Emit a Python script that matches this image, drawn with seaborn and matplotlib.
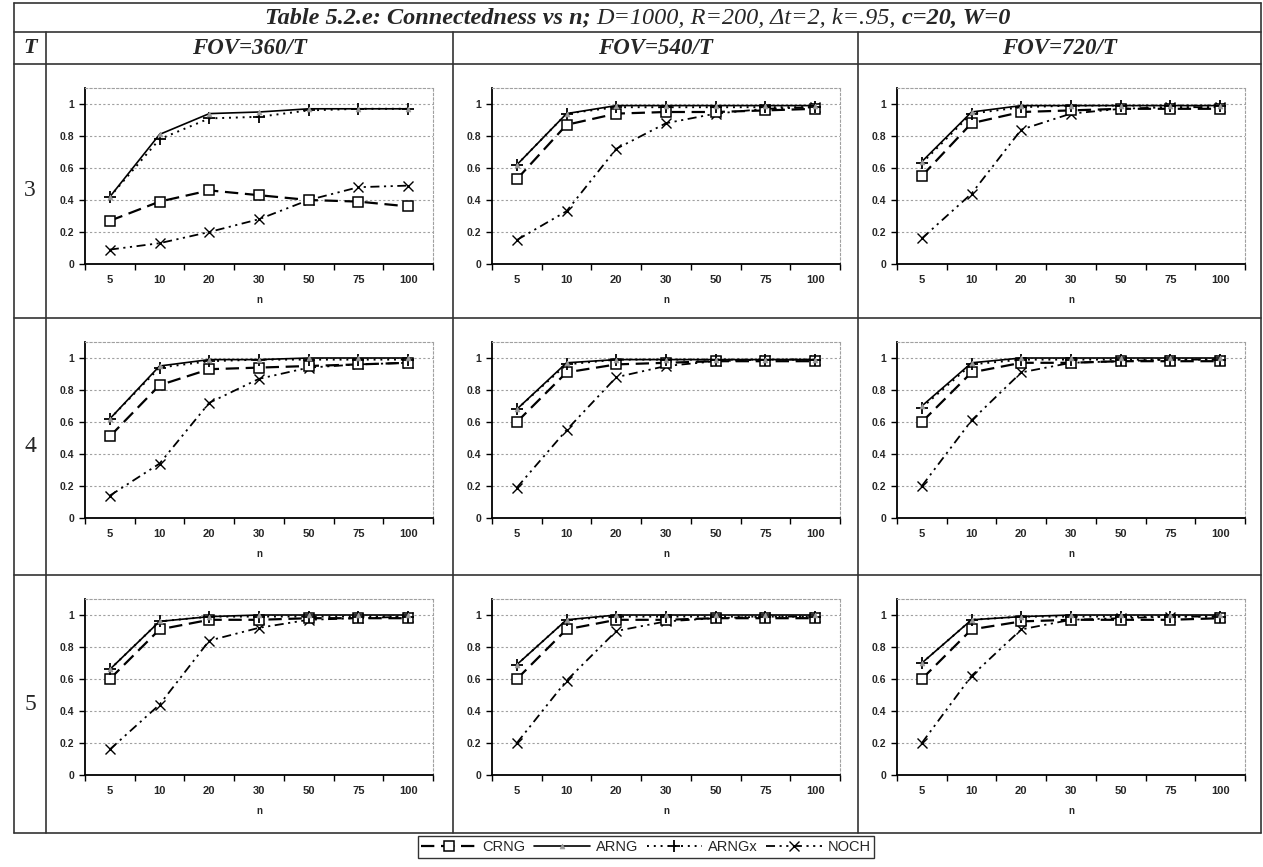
import numpy as np
import pandas as pd
import matplotlib
matplotlib.use("Agg")
import matplotlib.pyplot as plt
import seaborn as sns
from matplotlib.lines import Line2D

# categories / labels
n_labels = ["5", "10", "20", "30", "50", "75", "100"]
t_values = ["3", "4", "5"]
fov_labels = ["FOV=360/T", "FOV=540/T", "FOV=720/T"]
series_names = ["CRNG", "ARNG", "ARNGx", "NOCH"]

# values per T row, one list per FOV column
crng_t3 = [[0.27, 0.39, 0.46, 0.43, 0.40, 0.39, 0.36],
           [0.53, 0.87, 0.94, 0.95, 0.95, 0.96, 0.97],
           [0.55, 0.88, 0.95, 0.96, 0.97, 0.97, 0.97]]
arng_t3 = [[0.42, 0.81, 0.94, 0.95, 0.97, 0.97, 0.97],
           [0.62, 0.94, 0.99, 0.99, 0.99, 0.99, 0.99],
           [0.64, 0.95, 0.99, 0.99, 0.99, 0.99, 0.99]]
arngx_t3 = [[0.42, 0.78, 0.91, 0.92, 0.96, 0.97, 0.97],
            [0.62, 0.94, 0.98, 0.98, 0.98, 0.98, 0.98],
            [0.63, 0.94, 0.98, 0.99, 0.99, 0.99, 0.99]]
noch_t3 = [[0.09, 0.13, 0.20, 0.28, 0.40, 0.48, 0.49],
           [0.15, 0.33, 0.72, 0.88, 0.94, 0.97, 0.98],
           [0.16, 0.44, 0.84, 0.94, 0.97, 0.98, 0.98]]

crng_t4 = [[0.51, 0.83, 0.93, 0.94, 0.95, 0.96, 0.97],
           [0.60, 0.91, 0.96, 0.97, 0.98, 0.98, 0.98],
           [0.60, 0.91, 0.97, 0.97, 0.98, 0.98, 0.98]]
arng_t4 = [[0.62, 0.95, 0.99, 0.99, 1.00, 1.00, 1.00],
           [0.68, 0.97, 0.99, 0.99, 0.99, 0.99, 0.99],
           [0.70, 0.97, 1.00, 1.00, 1.00, 1.00, 1.00]]
arngx_t4 = [[0.62, 0.94, 0.98, 0.99, 0.99, 0.99, 0.99],
            [0.68, 0.96, 0.99, 0.99, 0.99, 0.99, 0.99],
            [0.69, 0.96, 0.99, 0.99, 0.99, 0.99, 0.99]]
noch_t4 = [[0.14, 0.34, 0.72, 0.87, 0.94, 0.96, 0.97],
           [0.19, 0.55, 0.88, 0.95, 0.98, 0.99, 0.99],
           [0.20, 0.61, 0.91, 0.97, 0.98, 0.99, 0.99]]

crng_t5 = [[0.60, 0.91, 0.97, 0.97, 0.98, 0.98, 0.98],
           [0.60, 0.91, 0.97, 0.97, 0.98, 0.98, 0.98],
           [0.60, 0.91, 0.96, 0.97, 0.97, 0.97, 0.98]]
arng_t5 = [[0.66, 0.96, 0.99, 1.00, 1.00, 1.00, 1.00],
           [0.69, 0.97, 1.00, 1.00, 1.00, 1.00, 1.00],
           [0.70, 0.97, 0.99, 1.00, 1.00, 1.00, 1.00]]
arngx_t5 = [[0.66, 0.96, 0.99, 0.99, 0.99, 0.99, 0.99],
            [0.69, 0.97, 0.99, 0.99, 0.99, 0.99, 0.99],
            [0.70, 0.97, 0.99, 0.99, 0.99, 0.99, 0.99]]
noch_t5 = [[0.16, 0.44, 0.84, 0.92, 0.97, 0.98, 0.99],
           [0.20, 0.59, 0.90, 0.96, 0.98, 0.99, 0.99],
           [0.20, 0.62, 0.91, 0.97, 0.98, 0.99, 0.99]]

series_data = {
    "CRNG": [crng_t3, crng_t4, crng_t5],
    "ARNG": [arng_t3, arng_t4, arng_t5],
    "ARNGx": [arngx_t3, arngx_t4, arngx_t5],
    "NOCH": [noch_t3, noch_t4, noch_t5],
}

styles = {
    "CRNG": dict(linestyle=(0, (6, 3)), marker="s", markersize=6.5, mfc="white",
                 mec="black", mew=1.1, lw=1.6),
    "ARNG": dict(linestyle="-", marker="^", markersize=3.5, mfc="#9a9a9a",
                 mec="#9a9a9a", mew=0.5, lw=1.2),
    "ARNGx": dict(linestyle=(0, (1, 2.5)), marker="+", markersize=8, mfc="black",
                  mec="black", mew=1.3, lw=1.4),
    "NOCH": dict(linestyle=(0, (5, 2.5, 1.2, 2.5, 1.2, 2.5)), marker="x", markersize=7,
                 mfc="black", mec="black", mew=1.0, lw=1.3),
}
draw_order = ["NOCH", "CRNG", "ARNGx", "ARNG"]

sns.set_style("white")
plt.rcParams["font.family"] = ["Liberation Sans", "DejaVu Sans"]

W, H = 1263, 867
fig = plt.figure(figsize=(W / 100, H / 100), dpi=100)


def rect(x0, y0, x1, y1):
    return [x0 / W, 1 - y1 / H, (x1 - x0) / W, (y1 - y0) / H]


def hline(y, x0, x1, lw=1.2):
    fig.add_artist(Line2D([x0 / W, x1 / W], [1 - y / H, 1 - y / H], color="#333333", lw=lw))


def vline(x, y0, y1, lw=1.2):
    fig.add_artist(Line2D([x / W, x / W], [1 - y0 / H, 1 - y1 / H], color="#333333", lw=lw))


# table grid (pixels)
left, t_div, right = 14, 46, 1261
col_lefts = [46, 453, 858]
row_tops = [64, 318, 575]
top, title_bot, head_bot, bottom = 3, 32, 64, 833

for y in [top, title_bot, head_bot, 318, 575, bottom]:
    hline(y, left, right)
vline(left, top, bottom)
vline(right, top, bottom)
for x in [t_div, 453, 858]:
    vline(x, title_bot, bottom)

# title in pieces (bold italic / italic / bold italic)
serif = "Liberation Serif"
pieces = [("Table 5.2.e: Connectedness vs n; ", "bold"),
          ("D=1000, R=200, \u0394t=2, k=.95, ", "normal"),
          ("c=20, W=0", "bold")]
texts = []
for s, wgt in pieces:
    texts.append(fig.text(0, 1 - 18 / H, s, family=serif, style="italic", weight=wgt,
                          fontsize=17.5, va="center", ha="left"))
fig.canvas.draw()
rend = fig.canvas.get_renderer()
widths = [t.get_window_extent(rend).width for t in texts]
x = (left + right) / 2 - sum(widths) / 2
for t, w in zip(texts, widths):
    t.set_x(x / W)
    x += w

# header row
fig.text(30 / W, 1 - 48 / H, "T", family=serif, style="italic", weight="bold",
         fontsize=16, ha="center", va="center")
col_edges = col_lefts + [right]
for c, lab in enumerate(fov_labels):
    cx = (col_edges[c] + col_edges[c + 1]) / 2
    fig.text(cx / W, 1 - 48 / H, lab, family=serif, style="italic", weight="bold",
             fontsize=16.5, ha="center", va="center")

# row labels
row_edges = row_tops + [bottom]
for r, t in enumerate(t_values):
    cy = (row_edges[r] + row_edges[r + 1]) / 2
    fig.text(30 / W, 1 - cy / H, t, family=serif, fontsize=17, ha="center", va="center")

x_pos = np.arange(len(n_labels))
handles = {}
for r in range(3):
    for c in range(3):
        ax_x0 = col_lefts[c] + 39
        ax_y0 = row_tops[r] + 24
        ax = fig.add_axes(rect(ax_x0, ax_y0, ax_x0 + 348, ax_y0 + 176))
        for name in draw_order:
            df = pd.DataFrame({"n": x_pos, "v": series_data[name][r][c]})
            sns.lineplot(data=df, x="n", y="v", ax=ax, color="black", legend=False,
                         **styles[name])
            if r == 0 and c == 0:
                handles[name] = ax.lines[-1]
        ax.set_xlim(-0.5, 6.5)
        ax.set_ylim(0, 1.1)
        ax.set_yticks(np.arange(0, 1.01, 0.2))
        ax.set_yticklabels(["0", "0.2", "0.4", "0.6", "0.8", "1"])
        ax.set_xticks(x_pos)
        ax.set_xticklabels(n_labels)
        ax.set_xticks(np.arange(-0.5, 6.6, 1), minor=True)
        ax.tick_params(axis="x", which="major", length=0, pad=8, labelsize=8)
        ax.tick_params(axis="x", which="minor", length=4, width=1, direction="out",
                       color="black", bottom=True)
        ax.tick_params(axis="y", length=4, width=1, direction="out", color="black",
                       left=True, labelsize=7.5, pad=4)
        for lab in ax.get_xticklabels() + ax.get_yticklabels():
            lab.set_fontweight("bold")
        ax.set_xlabel("n", fontsize=7, fontweight="bold", labelpad=7)
        ax.set_ylabel("")
        ax.grid(axis="y", color="#a0a0a0", linestyle=(0, (2, 2)), lw=0.8)
        ax.grid(axis="x", visible=False)
        for s in ["left", "bottom"]:
            ax.spines[s].set_color("black")
            ax.spines[s].set_linewidth(1.3)
        for s in ["top", "right"]:
            ax.spines[s].set_color("#a0a0a0")
            ax.spines[s].set_linestyle((0, (2, 2)))
            ax.spines[s].set_linewidth(0.8)
        ax.set_facecolor("white")

leg = fig.legend([handles[n] for n in series_names], series_names, loc="center",
                 bbox_to_anchor=(646 / W, 1 - 847 / H), ncol=4, frameon=True,
                 fancybox=False, edgecolor="black", fontsize=10.5, handlelength=3.8,
                 handletextpad=0.4, columnspacing=0.6, borderpad=0.25)
leg.get_frame().set_linewidth(1.0)

fig.savefig("out.png", dpi=100)
